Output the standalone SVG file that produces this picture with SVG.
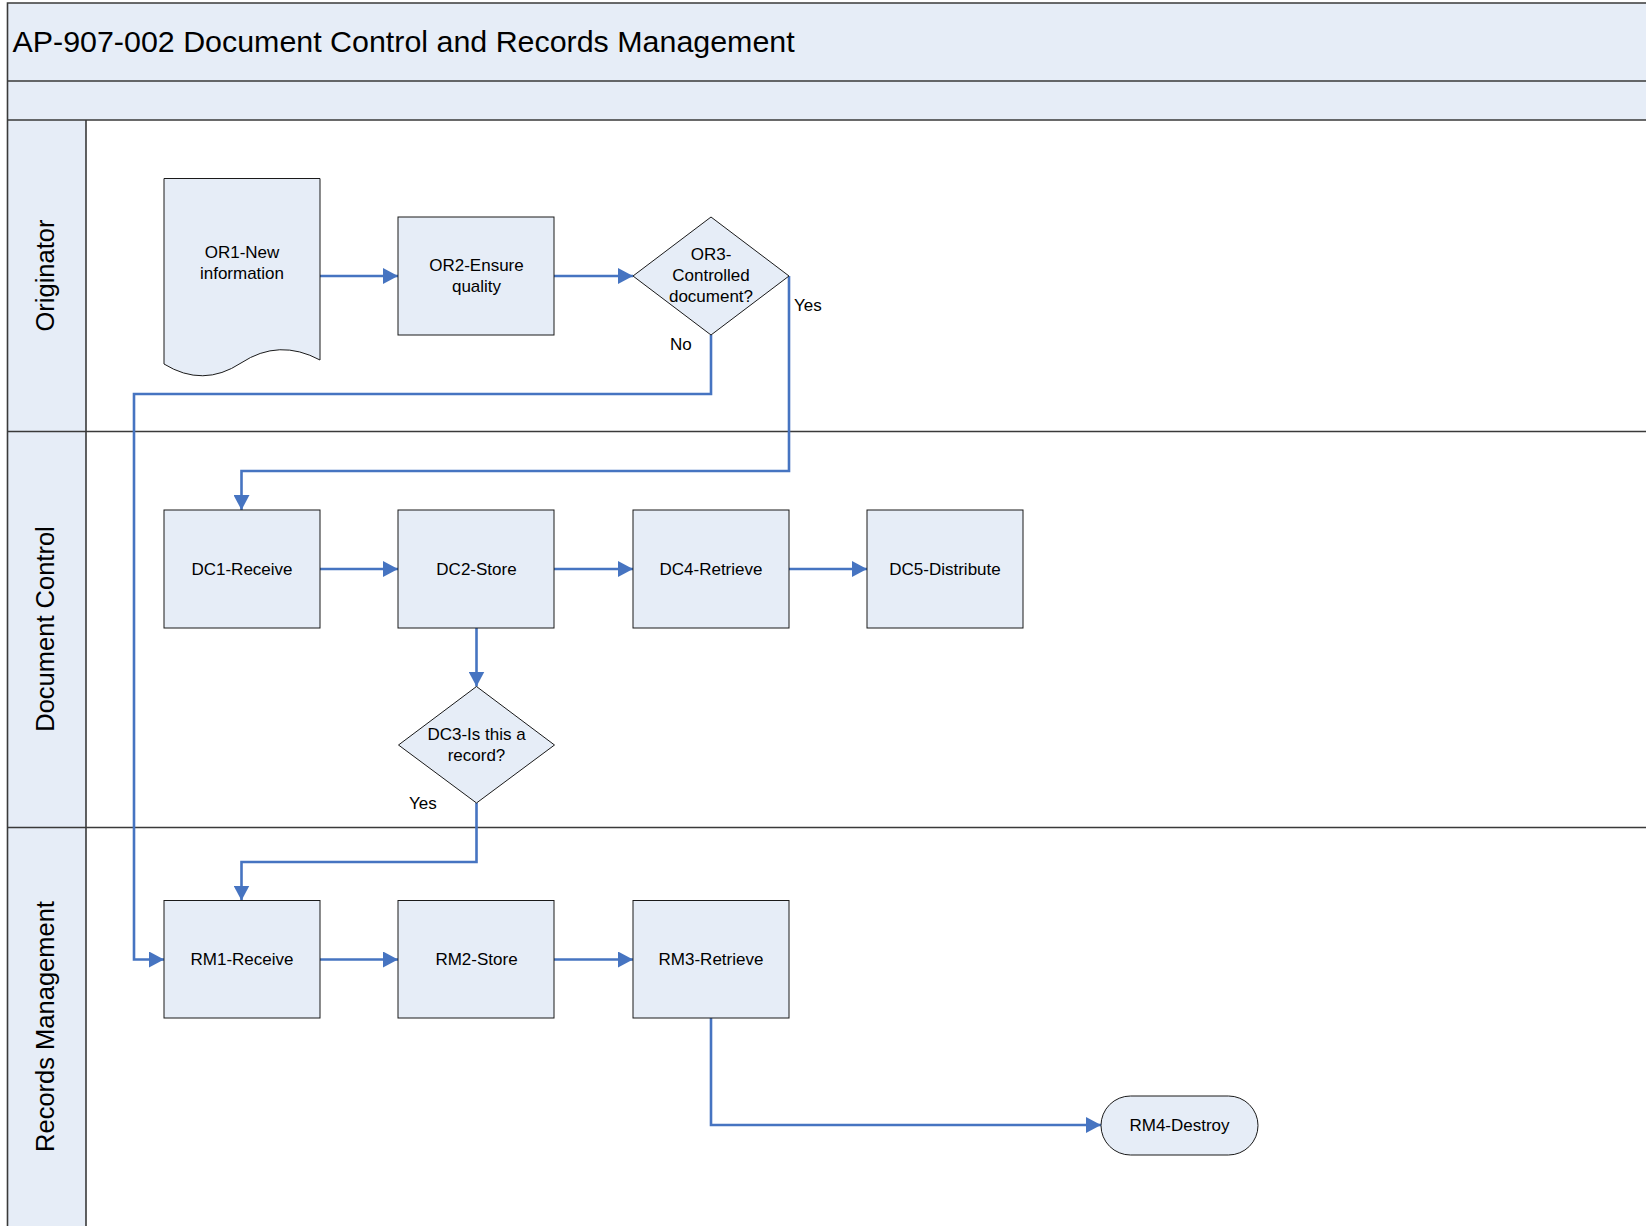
<svg xmlns="http://www.w3.org/2000/svg" width="1646" height="1226" viewBox="0 0 1646 1226">
<defs>
<style>
.bg{fill:#E6EDF7}
.frame{fill:none;stroke:#3A3A3A;stroke-width:1.6}
.node{fill:#E6EDF7;stroke:#1A1A1A;stroke-width:1}
.t{font-family:"Liberation Sans",Arial,sans-serif;font-size:17px;fill:#000;text-anchor:middle}
.lbl{font-family:"Liberation Sans",Arial,sans-serif;font-size:17px;fill:#000}
.lane{font-family:"Liberation Sans",Arial,sans-serif;font-size:25.5px;fill:#000;text-anchor:middle}
.title{font-family:"Liberation Sans",Arial,sans-serif;font-size:30.4px;fill:#000}
.c{fill:none;stroke:#4674C1;stroke-width:2.6;marker-end:url(#arr)}
</style>
<marker id="arr" markerUnits="userSpaceOnUse" markerWidth="16" markerHeight="16" refX="15" refY="8" orient="auto">
<path d="M0,0 L15,8 L0,16 Z" fill="#4674C1"/>
</marker>
</defs>
<rect x="0" y="0" width="1646" height="1226" fill="#FFFFFF"/>
<g id="pool">
<rect class="bg" x="7.5" y="3" width="1650" height="117"/>
<rect class="bg" x="7.5" y="120" width="78.5" height="1110"/>
<path class="frame" d="M1650,3 H7.5 V1230 M7.5,81 H1650 M7.5,120 H1650 M86,120 V1230 M7.5,431.5 H1650 M7.5,827.5 H1650"/>
<text class="title" x="12.5" y="52">AP-907-002 Document Control and Records Management</text>
</g>
<g id="lane-originator"><text class="lane" transform="translate(54,275.5) rotate(-90)">Originator</text></g>
<g id="lane-document-control"><text class="lane" transform="translate(54,629) rotate(-90)">Document Control</text></g>
<g id="lane-records-management"><text class="lane" transform="translate(54,1026.5) rotate(-90)">Records Management</text></g>

<g id="connectors">
<path class="c" d="M320,276 H398"/>
<path class="c" d="M554,276 H633"/>
<path class="c" d="M711,335 V394 H134 V959.5 H164"/>
<path class="c" d="M789,276 V471 H241.5 V510"/>
<path class="c" d="M320,569 H398"/>
<path class="c" d="M554,569 H633"/>
<path class="c" d="M789,569 H867"/>
<path class="c" d="M476.5,628 V686.5"/>
<path class="c" d="M476.5,803 V862 H241.5 V900.5"/>
<path class="c" d="M320,959.5 H398"/>
<path class="c" d="M554,959.5 H633"/>
<path class="c" d="M711,1018 V1125 H1101"/>
<text class="lbl" x="794" y="311">Yes</text>
<text class="lbl" x="670" y="350">No</text>
<text class="lbl" x="409" y="809">Yes</text>
</g>

<g id="OR1">
<path class="node" d="M164,178.5 H320 V360 Q279,338 241,363 Q203,388 164,364 Z"/>
<text class="t" x="242" y="258">OR1-New</text>
<text class="t" x="242" y="279">information</text>
</g>
<g id="OR2">
<rect class="node" x="398" y="217" width="156" height="118"/>
<text class="t" x="476.5" y="270.5">OR2-Ensure</text>
<text class="t" x="476.5" y="291.5">quality</text>
</g>
<g id="OR3">
<path class="node" d="M711,217 L789,276 L711,335 L633,276 Z"/>
<text class="t" x="711" y="260">OR3-</text>
<text class="t" x="711" y="281">Controlled</text>
<text class="t" x="711" y="302">document?</text>
</g>
<g id="DC1">
<rect class="node" x="164" y="510" width="156" height="118"/>
<text class="t" x="242" y="574.5">DC1-Receive</text>
</g>
<g id="DC2">
<rect class="node" x="398" y="510" width="156" height="118"/>
<text class="t" x="476.5" y="574.5">DC2-Store</text>
</g>
<g id="DC4">
<rect class="node" x="633" y="510" width="156" height="118"/>
<text class="t" x="711" y="574.5">DC4-Retrieve</text>
</g>
<g id="DC5">
<rect class="node" x="867" y="510" width="156" height="118"/>
<text class="t" x="945" y="574.5">DC5-Distribute</text>
</g>
<g id="DC3">
<path class="node" d="M476.5,686.5 L554.5,745 L476.5,803 L398.5,745 Z"/>
<text class="t" x="476.5" y="740">DC3-Is this a</text>
<text class="t" x="476.5" y="761">record?</text>
</g>
<g id="RM1">
<rect class="node" x="164" y="900.5" width="156" height="117.5"/>
<text class="t" x="242" y="965">RM1-Receive</text>
</g>
<g id="RM2">
<rect class="node" x="398" y="900.5" width="156" height="117.5"/>
<text class="t" x="476.5" y="965">RM2-Store</text>
</g>
<g id="RM3">
<rect class="node" x="633" y="900.5" width="156" height="117.5"/>
<text class="t" x="711" y="965">RM3-Retrieve</text>
</g>
<g id="RM4">
<rect class="node" x="1101" y="1096" width="157" height="59" rx="29.5" ry="29.5"/>
<text class="t" x="1179.5" y="1131">RM4-Destroy</text>
</g>
</svg>
